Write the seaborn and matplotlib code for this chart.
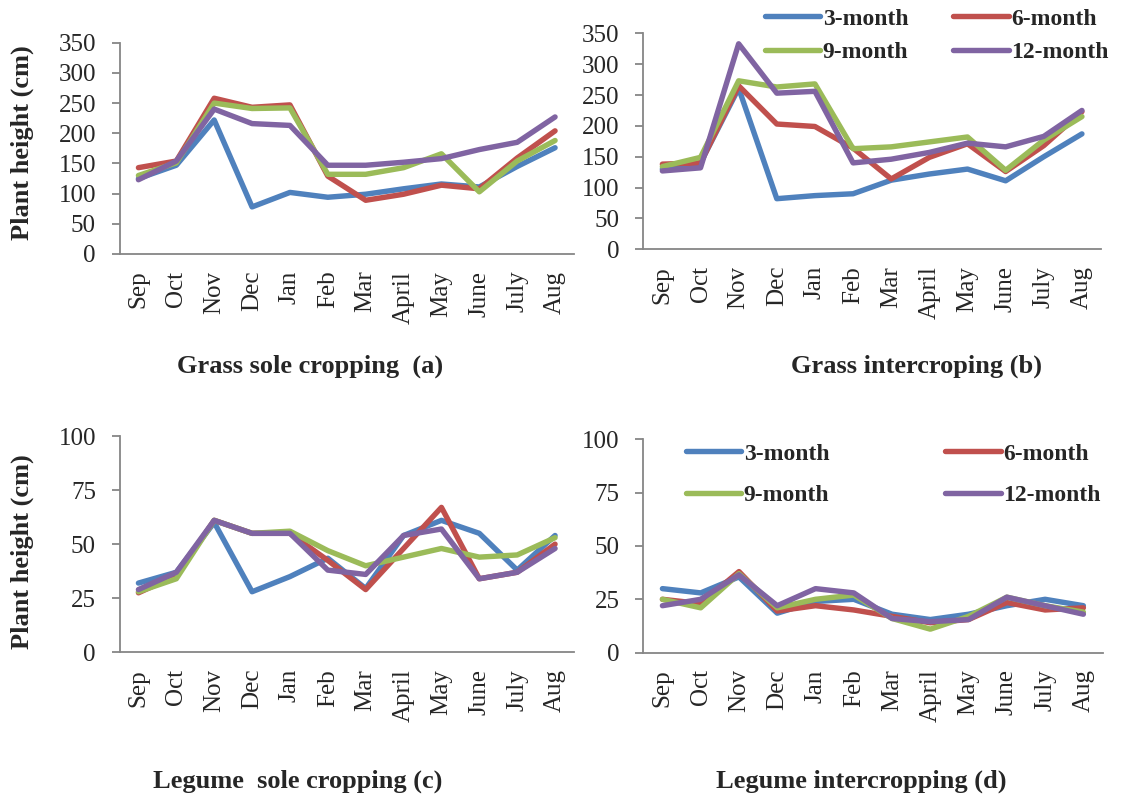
import numpy as np
import matplotlib
matplotlib.use("Agg")
import matplotlib.pyplot as plt
import pandas as pd
import seaborn as sns

sns.set_style("white")
plt.rcParams['font.family'] = ['Liberation Serif', 'DejaVu Serif']

months = ['Sep', 'Oct', 'Nov', 'Dec', 'Jan', 'Feb', 'Mar', 'April', 'May', 'June', 'July', 'Aug']
stages = ['3-month', '6-month', '9-month', '12-month']
colors = ['#4F81BD', '#C0504D', '#9BBB59', '#8064A2']

# (a) grass sole cropping
grass_sole_3 = [125, 147, 222, 78, 102, 94, 99, 108, 116, 111, 145, 176]
grass_sole_6 = [143, 154, 258, 243, 247, 129, 89, 99, 114, 108, 159, 204]
grass_sole_9 = [130, 151, 250, 241, 242, 132, 132, 143, 166, 103, 154, 188]
grass_sole_12 = [123, 154, 240, 216, 213, 147, 147, 152, 158, 173, 185, 227]

# (b) grass intercropping
grass_int_3 = [130, 140, 261, 82, 87, 90, 112, 122, 130, 111, 150, 187]
grass_int_6 = [138, 140, 265, 203, 199, 164, 114, 149, 171, 126, 168, 223]
grass_int_9 = [134, 149, 273, 263, 268, 163, 166, 174, 182, 128, 177, 215]
grass_int_12 = [127, 132, 333, 253, 256, 140, 146, 157, 172, 166, 183, 225]

# (c) legume sole cropping
legume_sole_3 = [32, 37, 60, 28, 35, 43.5, 29.5, 54, 61, 55, 38, 54]
legume_sole_6 = [27.5, 35.5, 61, 55, 55, 42.5, 29, 48, 67, 34, 37, 50]
legume_sole_9 = [28, 34, 61, 55, 56, 47, 40, 44, 48, 44, 45, 53]
legume_sole_12 = [29, 37, 61, 55, 55, 38, 36, 54, 57, 34, 37, 48]

# (d) legume intercropping
legume_int_3 = [30, 28, 35.5, 18.5, 24, 25, 18, 15.5, 18, 22, 25, 22]
legume_int_6 = [25, 23, 38, 19.5, 22, 20, 17, 14, 15.5, 23.5, 20, 21]
legume_int_9 = [25, 21, 37, 21, 25, 27, 16, 11, 17, 26, 22, 19]
legume_int_12 = [22, 25, 36.5, 22, 30, 28, 16, 14.5, 15.5, 26, 22, 18]

W, H = 1121, 800
GRAY = '#868686'
LW = 3.9


def tidy(series):
    rows = []
    for stage, vals in zip(stages, series):
        for m, v in zip(months, vals):
            rows.append({'month': m, 'height': v, 'stage': stage})
    return pd.DataFrame(rows)


def px_axes(fig, left, top, right, bottom):
    return fig.add_axes([left / W, 1 - bottom / H, (right - left) / W, (bottom - top) / H])


def draw_panel(ax, series, ymax, ystep):
    df = tidy(series)
    sns.lineplot(data=df, x='month', y='height', hue='stage', hue_order=stages,
                 palette=colors, sort=False, linewidth=LW, legend=False, ax=ax,
                 solid_capstyle='round', solid_joinstyle='round')
    ax.set_xlim(-0.5, 11.5)
    ax.set_ylim(0, ymax)
    ax.set_yticks(np.arange(0, ymax + 1, ystep))
    ax.set_xticks(range(len(months)))
    ax.set_xticklabels(months, rotation=90)
    ax.set_xticks(np.arange(-0.5, 12, 1), minor=True)
    ax.tick_params(axis='x', which='major', length=0, pad=12, labelsize=18)
    ax.tick_params(axis='x', which='minor', length=6, width=1.3, color=GRAY, direction='out')
    ax.tick_params(axis='y', length=6, width=1.3, color=GRAY, direction='out', pad=11, labelsize=18, left=True)
    ax.set_xlabel('')
    ax.set_ylabel('')
    sns.despine(ax=ax)
    for s in ['left', 'bottom']:
        ax.spines[s].set_color(GRAY)
        ax.spines[s].set_linewidth(1.3)
    ax.patch.set_alpha(0)


def add_legend(ax, fig, x, y, colspace, rowspace):
    # matplotlib fills legend columns first, so reorder to read row by row
    order = [0, 2, 1, 3]
    lines = ax.lines[:4]
    ax.legend([lines[i] for i in order], [stages[i] for i in order], ncol=2, loc='upper left',
              bbox_to_anchor=(x / W, 1 - y / H), bbox_transform=fig.transFigure,
              frameon=False, borderpad=0, borderaxespad=0, handlelength=2.35,
              handletextpad=0.1, columnspacing=colspace, labelspacing=rowspace,
              prop={'family': 'Liberation Serif', 'weight': 'bold', 'size': 17})
    for line in ax.get_legend().get_lines():
        line.set_linewidth(LW)


fig = plt.figure(figsize=(W / 100, H / 100), dpi=100)

ax_a = px_axes(fig, 119.5, 42.7, 574, 254)
ax_b = px_axes(fig, 643.3, 33.3, 1101, 249.3)
ax_c = px_axes(fig, 119.5, 436, 574, 652.3)
ax_d = px_axes(fig, 643.3, 439.4, 1102.5, 652.6)

draw_panel(ax_a, [grass_sole_3, grass_sole_6, grass_sole_9, grass_sole_12], 350, 50)
draw_panel(ax_b, [grass_int_3, grass_int_6, grass_int_9, grass_int_12], 350, 50)
draw_panel(ax_c, [legume_sole_3, legume_sole_6, legume_sole_9, legume_sole_12], 100, 25)
draw_panel(ax_d, [legume_int_3, legume_int_6, legume_int_9, legume_int_12], 100, 25)

add_legend(ax_b, fig, 765, 8, 1.9, 0.5)
add_legend(ax_d, fig, 686, 443, 4.9, 0.85)

bold = {'family': 'Liberation Serif', 'weight': 'bold', 'size': 19}
fig.text(22 / W, 1 - 142.5 / H, 'Plant height (cm)', rotation=90, ha='center', va='center', **bold)
fig.text(22 / W, 1 - 551.5 / H, 'Plant height (cm)', rotation=90, ha='center', va='center', **bold)

fig.text(310.5 / W, 1 - 373 / H, 'Grass sole cropping  (a)', ha='center', va='baseline', **bold)
fig.text(916.5 / W, 1 - 373 / H, 'Grass intercroping (b)', ha='center', va='baseline', **bold)
fig.text(297.5 / W, 1 - 788 / H, 'Legume  sole cropping (c)', ha='center', va='baseline', **bold)
fig.text(861.5 / W, 1 - 788 / H, 'Legume intercropping (d)', ha='center', va='baseline', **bold)

fig.savefig('out.png', dpi=100, facecolor='white')
